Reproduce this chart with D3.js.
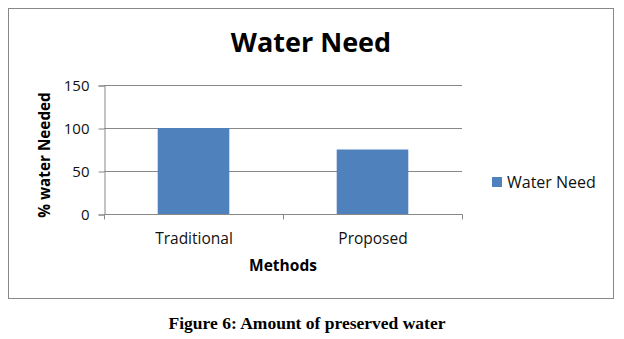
<!DOCTYPE html>
<html><head><meta charset="utf-8">
<script src="https://cdn.jsdelivr.net/npm/d3@7/dist/d3.min.js"></script>
<style>body{margin:0;background:#fff}svg{display:block}</style>
</head><body>
<script>
const categories = ["Traditional", "Proposed"];
const values = [100, 75];
const yTicks = [0, 50, 100, 150];
const seriesName = "Water Need";
const chartTitle = "Water Need";
const xTitle = "Methods";
const yTitle = "% water Needed";
const caption = "Figure 6: Amount of preserved water";

const W = 624, H = 339;
const svg = d3.select("body").append("svg").attr("width", W).attr("height", H);
const font = "'Open Sans', sans-serif";

svg.append("rect").attr("x", 8.5).attr("y", 8.5).attr("width", 605).attr("height", 290)
  .attr("fill", "#fff").attr("stroke", "#888").attr("stroke-width", 1);

const plot = {left: 104, right: 462, top: 85, bottom: 214};
const x = d3.scaleBand().domain(categories).range([plot.left, plot.right]).paddingInner(0.6).paddingOuter(0.3);
const y = d3.scaleLinear().domain([0, 150]).range([plot.bottom, plot.top]);

// gridlines
svg.append("g").selectAll("line").data(yTicks.filter(d => d > 0)).join("line")
  .attr("x1", plot.left).attr("x2", plot.right)
  .attr("y1", d => Math.round(y(d)) + 0.5).attr("y2", d => Math.round(y(d)) + 0.5)
  .attr("stroke", "#888").attr("stroke-width", 1);

// bars
svg.append("g").selectAll("rect").data(values).join("rect")
  .attr("x", (d, i) => x(categories[i])).attr("width", x.bandwidth())
  .attr("y", d => y(d)).attr("height", d => y(0) - y(d))
  .attr("fill", "#4F81BD");

// y axis
const yAxis = svg.append("g").attr("transform", `translate(${plot.left + 0.5},0.5)`)
  .call(d3.axisLeft(y).tickValues(yTicks).tickSize(6).tickPadding(9));
yAxis.select(".domain").attr("stroke", "#888");
yAxis.selectAll(".tick line").attr("stroke", "#888");
yAxis.selectAll("text").attr("font-family", font).attr("font-size", 15).attr("fill", "#111");

// x axis
const xb = d3.scaleLinear().domain([0, categories.length]).range([plot.left, plot.right]);
const xAxisG = svg.append("g").attr("transform", `translate(0.5,${plot.bottom + 0.5})`);
xAxisG.append("line").attr("x1", plot.left).attr("x2", plot.right).attr("stroke", "#888");
xAxisG.selectAll("line.t").data(d3.range(categories.length + 1)).join("line").attr("class", "t")
  .attr("x1", d => Math.round(xb(d))).attr("x2", d => Math.round(xb(d)))
  .attr("y1", 0).attr("y2", 5).attr("stroke", "#888");
xAxisG.selectAll("text").data(categories).join("text")
  .attr("x", d => x(d) + x.bandwidth() / 2).attr("y", 24)
  .attr("dy", "0.35em").attr("text-anchor", "middle")
  .attr("font-family", font).attr("font-size", 15.5).attr("fill", "#111").text(d => d);

// titles
svg.append("text").attr("x", 311).attr("y", 43).attr("dy", "0.35em").attr("text-anchor", "middle")
  .attr("font-family", font).attr("font-weight", "bold").attr("font-size", 27).attr("fill", "#000").text(chartTitle);
svg.append("text").attr("x", 283).attr("y", 266).attr("dy", "0.35em").attr("text-anchor", "middle")
  .attr("font-family", font).attr("font-weight", "bold").attr("font-size", 15.5).attr("fill", "#000").text(xTitle);
svg.append("text").attr("transform", "translate(45,155) rotate(-90)").attr("dy", "0.35em").attr("text-anchor", "middle")
  .attr("font-family", font).attr("font-weight", "bold").attr("font-size", 15.3).attr("fill", "#000").text(yTitle);

// legend
const lg = svg.append("g").attr("transform", "translate(492,177)");
lg.append("rect").attr("width", 10).attr("height", 10).attr("fill", "#4F81BD");
lg.append("text").attr("x", 15).attr("y", 5).attr("dy", "0.35em")
  .attr("font-family", font).attr("font-size", 16).attr("fill", "#111").text(seriesName);

// caption
svg.append("text").attr("x", 307).attr("y", 323).attr("dy", "0.35em").attr("text-anchor", "middle")
  .attr("font-family", "'Liberation Serif', 'Times New Roman', serif").attr("font-weight", "bold")
  .attr("font-size", 17.5).attr("fill", "#000").text(caption);
</script>
</body></html>
